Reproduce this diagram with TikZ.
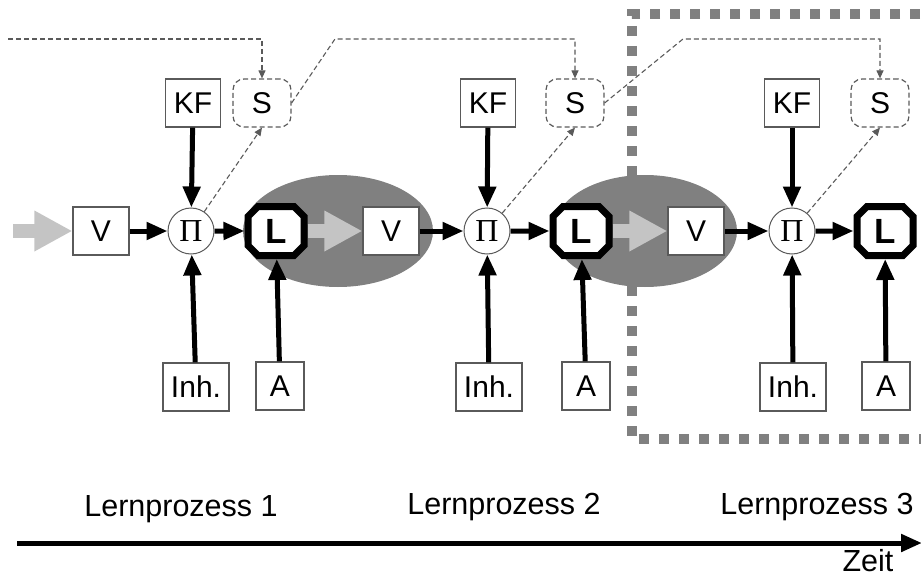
\documentclass[tikz,border=0pt]{standalone}
\usepackage{fontspec}
\setmainfont{Liberation Sans}
\newfontfamily\griechisch{Liberation Serif}
\usepackage{amsmath}
\usetikzlibrary{arrows.meta}
\usetikzlibrary{shapes.misc,positioning}

\definecolor{colorOne}{HTML}{000000}
\definecolor{colorTwo}{HTML}{FFFFFF}
\definecolor{colorThree}{HTML}{808080}
\definecolor{colorFour}{HTML}{C4C4C4}
\definecolor{colorFive}{HTML}{5A5A5A}
\def\colorOne{colorOne}
\def\colorTwo{colorTwo}
\def\colorThree{colorThree}
\def\colorFour{colorFour}
\def\colorFive{colorFive}

\tikzset{
    kasten/.style = {draw=\colorFive , line width=1.2pt , fill=\colorTwo , minimum height=48pt , inner sep=8pt , font=\fontsize{30pt}{36pt}\selectfont},
    wert/.style = {draw=\colorFive , line width=1.2pt , dash pattern=on 5pt off 3pt , rounded corners=11pt , minimum width=58pt , minimum height=48pt , font=\fontsize{30pt}{36pt}\selectfont},
    produkt/.style = {circle , draw=\colorFive , line width=1pt , fill=\colorTwo , minimum size=46pt , inner sep=0pt , font=\griechisch\fontsize{32pt}{36pt}\selectfont},
    lern/.style = {chamfered rectangle , chamfered rectangle xsep=5pt , chamfered rectangle ysep=5pt , draw=\colorOne , line width=7pt , fill=\colorTwo , minimum width=56pt , minimum height=49pt , inner sep=1pt , font=\bfseries\fontsize{35pt}{38pt}\selectfont},
    pfeil/.style = {line width=5pt , color=\colorOne , -{Triangle[length=21pt,width=17pt]}},
    grau/.style = {line width=14pt , color=\colorFour , -{Triangle[length=38pt,width=38pt]}},
    fein/.style = {line width=1.1pt , color=\colorFive , dash pattern=on 5pt off 3pt , -{Triangle[length=8pt,width=7pt]}},
    titel/.style = {font=\fontsize{30.5pt}{36pt}\selectfont}
}

\begin{document}
\begin{tikzpicture}[x=1pt , y=-1pt]

    \useasboundingbox (0,0) rectangle (921,578);

    % Rahmen um Lernprozess 3
    \draw[line width=10pt , color=\colorThree , dash pattern=on 10pt off 10pt] 
        (940,14) -- (632,14) -- (632,439) -- (940,439);

    % Ellipsen im Hintergrund
    \fill[fill=\colorThree] (338,231) ellipse [x radius=95 , y radius=56];
    \fill[fill=\colorThree] (645,231) ellipse [x radius=92 , y radius=56];

    % Knoten der drei Lernprozesse
    \foreach \n/\xv/\xp/\xl/\xk/\xs/\xi/\xa in {1/101/191/276/193/262/196/280 , 2/391/487/581/488/575/489/586 , 3/696/792/885/792/880/793/886} {
        \node[kasten , minimum width=56pt] (v\n) at (\xv,231) {V};
        \node[produkt] (pi\n) at (\xp,231) {Π};
        \node[lern] (l\n) at (\xl,231) {L};
        \node[kasten] (kf\n) at (\xk,103) {KF};
        \node[wert] (s\n) at (\xs,103) {S};
        \node[kasten] (inh\n) at (\xi,387) {Inh.};
        \node[kasten , minimum width=48pt] (a\n) at (\xa,386) {A};

        \draw[pfeil] (v\n) -- (pi\n);
        \draw[pfeil] (pi\n) -- (l\n);
        \draw[pfeil] (kf\n) -- (pi\n);
        \draw[pfeil] (inh\n) -- (pi\n);
        \draw[pfeil] (a\n) -- (l\n);
        \draw[fein] (pi\n) -- (s\n.south);
    }

    % graue Pfeile
    \coordinate (ein) at (13,231);
    \draw[grau] (ein) -- (v1.west);
    \draw[grau] (l1.east) -- (v2.west);
    \draw[grau] (l2.east) -- (v3.west);

    % gestrichelte Rueckfuehrung
    \coordinate (start) at (8,39);
    \coordinate (knick1) at (335,39);
    \coordinate (knick2) at (683,39);
    \draw[fein] (start) -| (s1.north);
    \draw[fein] (s1.east) -- (knick1) -| (s2.north);
    \draw[fein] (s2.east) -- (knick2) -| (s3.north);

    % Zeitachse
    \node[titel] (lp1) at (181,509) {Lernprozess 1};
    \node[titel] (lp2) at (504,507) {Lernprozess 2};
    \node[titel] (lp3) at (817,507) {Lernprozess 3};
    \coordinate (t0) at (17,543);
    \coordinate (t1) at (922,543);
    \draw[pfeil] (t0) -- (t1);
    \node[titel] (zeit) at (868,561) {Zeit};

\end{tikzpicture}
\end{document}
